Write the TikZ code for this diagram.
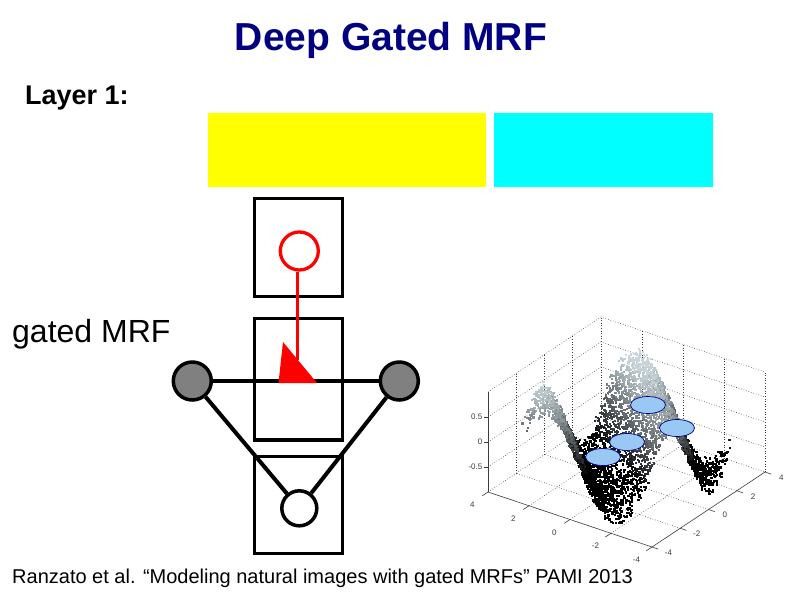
\documentclass[tikz,border=0pt]{standalone}
\usepackage{fontspec}
\setmainfont{Liberation Sans}
\usetikzlibrary{shapes.geometric}
\definecolor{navy}{RGB}{0,0,128}
\definecolor{myyellow}{RGB}{255,255,0}
\definecolor{mycyan}{RGB}{0,255,255}
\definecolor{ellfill}{RGB}{153,200,245}
\definecolor{ridge}{RGB}{200,214,220}
\definecolor{mrfgray}{RGB}{128,128,128}
\definecolor{axgray}{RGB}{60,60,60}
\newcommand\prj[3]{({652-164*((#1)+4)/8+113*((#2)+4)/8},{547-55*((#1)+4)/8-75*((#2)+4)/8-50*((#3)+1)})}
\begin{document}
\begin{tikzpicture}[x=1pt,y=-1pt,
  mrfbox/.style={draw=black, line width=3.3pt, minimum width=88pt, inner sep=0pt},
  gnode/.style={circle, draw=black, fill=mrfgray, line width=3.5pt, minimum size=38pt, inner sep=0pt},
  wnode/.style={circle, draw=black, fill=white, line width=3.5pt, minimum size=35pt, inner sep=0pt},
  rnode/.style={circle, draw=red, fill=white, line width=3.3pt, minimum size=38pt, inner sep=0pt},
  edge/.style={draw=black, line width=4pt},
  gridl/.style={draw=axgray, line width=0.6pt, dotted},
  axisl/.style={draw=axgray, line width=0.6pt},
  ticklab/.style={font=\fontsize{8}{9}\selectfont, text=axgray, inner sep=0.5pt},
  ellip/.style={ellipse, draw=navy, fill=ellfill, line width=0.7pt, minimum width=35pt, minimum height=17pt, inner sep=0pt},
  colorbar/.style={inner sep=0pt, anchor=north west}
]
\useasboundingbox (0,0) rectangle (794,595);
\fill[white] (0,0) rectangle (794,595);

% title and labels
\node[font=\fontsize{39}{42}\selectfont\bfseries, text=navy, anchor=base, inner sep=0pt] (title) at (391,50) {Deep Gated MRF};
\node[anchor=base west, inner sep=0pt, font=\fontsize{27}{29}\selectfont\bfseries] (layer) at (25,104) {Layer 1:};
\node[anchor=base west, inner sep=0pt, font=\fontsize{32}{34}\selectfont] (gmrf) at (12,342) {gated MRF};
\node[anchor=base west, inner sep=0pt, font=\fontsize{20}{22}\selectfont] (cite) at (12,583) {Ranzato et al. “Modeling natural images with gated MRFs” PAMI 2013};

% colour bars
\node[colorbar, fill=myyellow, minimum width=278pt, minimum height=74pt] (ybar) at (208,113) {};
\node[colorbar, fill=mycyan, minimum width=219pt, minimum height=74pt] (cbar) at (494,113) {};

% gated MRF diagram
\node[mrfbox, minimum height=98pt] (topbox) at (298.4,247.8) {};
\node[mrfbox, minimum height=121.7pt] (midbox) at (298.4,379.2) {};
\node[mrfbox, minimum height=96.7pt] (botbox) at (298.4,505) {};

\node[gnode] (lg) at (192.3,381) {};
\node[gnode] (rg) at (399.3,381) {};
\node[wnode] (bc) at (299.3,508.3) {};
\node[rnode] (rc) at (299.3,251) {};

\draw[edge] (lg) -- (rg);
\draw[edge] (lg) -- (bc);
\draw[edge] (rg) -- (bc);

\coordinate (tip) at (297.5,360);
\coordinate (ta) at (283,342);
\coordinate (tb) at (278.5,383);
\coordinate (tc) at (317,383);
\draw[red, line width=3.5pt] (rc.south -| tip) -- (tip);
\fill[red] (ta) -- (tb) -- (tc) -- cycle;

% 3D scatter plot
\foreach \v in {-2,0,2,4} \draw[gridl] \prj{4}{\v}{-1} -- \prj{4}{\v}{1};
\foreach \u in {2,0,-2,-4} \draw[gridl] \prj{\u}{4}{-1} -- \prj{\u}{4}{1};
\foreach \z in {-0.5,0,0.5,1} \draw[gridl] \prj{4}{-4}{\z} -- \prj{4}{4}{\z} -- \prj{-4}{4}{\z};
\foreach \t in {-2,0,2} {
  \draw[gridl] \prj{\t}{-4}{-1} -- \prj{\t}{4}{-1};
  \draw[gridl] \prj{-4}{\t}{-1} -- \prj{4}{\t}{-1};
}
\draw[gridl] \prj{4}{-4}{-1} -- \prj{4}{4}{-1} -- \prj{-4}{4}{-1};
\draw[axisl] \prj{4}{-4}{-1} -- \prj{-4}{-4}{-1} -- \prj{-4}{4}{-1};
\draw[axisl] \prj{4}{-4}{-1} -- \prj{4}{-4}{1};

\foreach \u/\l in {4/4,2/2,0/0,-2/-2,-4/-4} {
  \draw[axisl] \prj{\u}{-4}{-1} -- \prj{\u}{-4.4}{-1};
  \node[ticklab] at \prj{\u}{-5.1}{-1.05} {\l};
}
\foreach \v/\l in {-4/-4,-2/-2,0/0,2/2,4/4} {
  \draw[axisl] \prj{-4}{\v}{-1} -- \prj{-4.3}{\v}{-1};
  \node[ticklab] at \prj{-4.8}{\v}{-1} {\l};
}
\foreach \z/\l in {-0.5/-0.5,0/0,0.5/0.5} {
  \draw[axisl] (488,{492-50*(\z+1)}) -- (484,{492-50*(\z+1)});
  \node[ticklab, anchor=east] at (483,{492-50*(\z+1)}) {\l};
}

\pgfmathsetseed{11}
\foreach \i in {0,...,66} {
  \foreach \j in {0,...,66} {
    \pgfmathsetmacro\uu{3-0.09*\i+0.1*rand}
    \pgfmathsetmacro\vv{3-0.09*\j+0.1*rand}
    \pgfmathsetmacro\dd{(\uu)-(\vv)-1.65}
    \pgfmathsetmacro\zz{-0.1-0.85*cos(deg(\dd))+0.18*rand}
    \pgfmathtruncatemacro\pc{min(100,max(0,120*(0.6-0.55*(\zz+0.1))-4*((\uu)+(\vv))))}
    \fill[black!\pc!ridge] \prj{\uu}{\vv}{\zz} rectangle ++(2.2,2.2);
  }
}

\node[ellip] (e1) at (648,405) {};
\node[ellip] (e2) at (677,428) {};
\node[ellip] (e3) at (627,442) {};
\node[ellip] (e4) at (603,457) {};
\end{tikzpicture}
\end{document}
